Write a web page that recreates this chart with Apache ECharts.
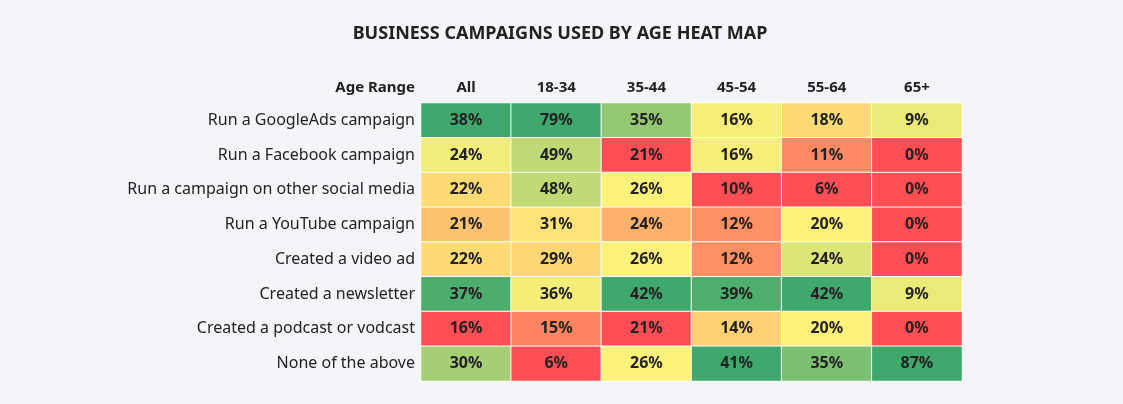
<!DOCTYPE html>
<html>
<head>
<meta charset="utf-8">
<script src="https://cdn.jsdelivr.net/npm/echarts@6/dist/echarts.min.js"></script>
<style>html,body{margin:0;background:#f4f5f9}#c{width:1123px;height:404px}</style>
</head>
<body>
<div id="c"></div>
<script>
// 列和行
const ageGroups = ['All', '18-34', '35-44', '45-54', '55-64', '65+']
const campaigns = [
    'Run a GoogleAds campaign',
    'Run a Facebook campaign',
    'Run a campaign on other social media',
    'Run a YouTube campaign',
    'Created a video ad',
    'Created a newsletter',
    'Created a podcast or vodcast',
    'None of the above'
]
// 每列的百分比（按行顺序）
const colAll = [38, 24, 22, 21, 22, 37, 16, 30]
const col1834 = [79, 49, 48, 31, 29, 36, 15, 6]
const col3544 = [35, 21, 26, 24, 26, 42, 21, 26]
const col4554 = [16, 16, 10, 12, 12, 39, 14, 41]
const col5564 = [18, 11, 6, 20, 24, 42, 20, 35]
const col65 = [9, 0, 0, 0, 0, 9, 0, 87]
const columns = [colAll, col1834, col3544, col4554, col5564, col65]

// 每列单独做 红-黄-绿 色阶，中位数为黄色
function scaleColumn(vals) {
    const s = [...vals].sort((a, b) => a - b)
    const min = s[0], max = s[s.length - 1]
    const med = (s[3] + s[4]) / 2
    return vals.map(v => {
        if (v <= med) return med === min ? 0 : 0.5 * (v - min) / (med - min)
        return 0.5 + 0.5 * (v - med) / (max - med)
    })
}

const cells = []
columns.forEach((col, x) => {
    const pos = scaleColumn(col)
    col.forEach((v, y) => cells.push([x, y, v, pos[y]]))
})

const chart = echarts.init(document.getElementById('c'))
chart.setOption({
    backgroundColor: '#f4f5f9',
    textStyle: { fontFamily: 'Noto Sans' },
    title: {
        text: 'BUSINESS CAMPAIGNS USED BY AGE HEAT MAP',
        left: 555, top: 20, textAlign: 'center',
        textStyle: { fontSize: 18, fontWeight: 'bold', color: '#222' }
    },
    grid: { left: 421, right: 161, top: 103, bottom: 23 },
    xAxis: {
        type: 'category', position: 'top', data: ageGroups,
        axisLine: { show: false }, axisTick: { show: false }, splitArea: { show: false },
        axisLabel: { color: '#222', fontSize: 15, fontWeight: 'bold', margin: 8 }
    },
    yAxis: {
        type: 'category', inverse: true, data: campaigns,
        name: 'Age Range', nameLocation: 'start', nameGap: 8,
        nameTextStyle: { color: '#222', fontSize: 15, fontWeight: 'bold', align: 'right', padding: [0, 6, 0, 0] },
        axisLine: { show: false }, axisTick: { show: false },
        axisLabel: { color: '#222', fontSize: 16, margin: 6 }
    },
    visualMap: {
        show: false, dimension: 3, min: 0, max: 1,
        inRange: { color: ['#ff4f55', '#fff27a', '#3fa86d'] }
    },
    series: [{
        type: 'heatmap',
        data: cells,
        label: {
            show: true, fontSize: 16, fontWeight: 'bold', color: '#222',
            formatter: p => p.value[2] + '%'
        },
        itemStyle: { borderColor: '#fff', borderWidth: 1 }
    }]
})
</script>
</body>
</html>
